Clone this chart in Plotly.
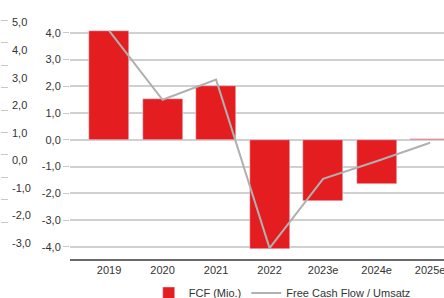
import plotly.graph_objects as go

years = ["2019", "2020", "2021", "2022", "2023e", "2024e", "2025e"]
fcf = [4.08, 1.54, 2.02, -4.08, -2.28, -1.65, 0.05]
fcf_margin = [4.71, 2.2, 2.93, -3.18, -0.67, -0.03, 0.64]
left_ticks = [5, 4, 3, 2, 1, 0, -1, -2, -3]
left_labels = ["5,0", "4,0", "3,0", "2,0", "1,0", "0,0", "-1,0", "-2,0", "-3,0"]
main_ticks = [4, 3, 2, 1, 0, -1, -2, -3, -4]
main_labels = ["4,0", "3,0", "2,0", "1,0", "0,0", "-1,0", "-2,0", "-3,0", "-4,0"]
edge_ticks = list(range(10))

RED = "#e41e20"
GRAY = "#b0b0b0"
FONT = "Liberation Sans, Arial, sans-serif"

fig = go.Figure()
fig.add_trace(go.Bar(x=years, y=fcf, name="FCF (Mio.)", marker_color=RED,
                     width=0.75, yaxis="y"))
fig.add_trace(go.Scatter(x=years, y=fcf_margin, name="Free Cash Flow / Umsatz",
                         mode="lines", line=dict(color=GRAY, width=2), yaxis="y2"))
# empty helper so the decorative tick axis at the left edge is drawn
fig.add_trace(go.Scatter(x=[None], y=[None], yaxis="y3", showlegend=False,
                         hoverinfo="skip", mode="lines"))

fig.update_layout(
    width=444, height=298,
    margin=dict(l=0, r=0, t=6, b=39, autoexpand=False),
    paper_bgcolor="white", plot_bgcolor="white",
    font=dict(family=FONT, size=11, color="#333333"),
    bargap=0,
    xaxis=dict(domain=[70 / 444, 1], type="category", range=[-0.73, 6.26],
               showline=True, linecolor="#6a6a6a", linewidth=2, automargin=False,
               ticks="", showgrid=False, tickfont=dict(size=11, color="#333333")),
    yaxis=dict(range=[-4.45, 5.0], tickvals=main_ticks, ticktext=main_labels,
               showgrid=True, gridcolor="#d0d0d0", gridwidth=1.5, automargin=False,
               zeroline=False, ticks="outside", ticklen=6, tickcolor="#c8c8c8",
               tickfont=dict(size=11, color="#333333")),
    yaxis2=dict(range=[-3.575, 5.6], tickvals=left_ticks, ticktext=left_labels,
                overlaying="y", side="left", anchor="free", position=0,
                ticklabelposition="inside", ticks="", showgrid=False, zeroline=False,
                ticklabelstandoff=8, showline=False, automargin=False,
                tickfont=dict(size=11, color="#333333")),
    yaxis3=dict(range=[-1.65, 9.65], tickvals=edge_ticks, overlaying="y",
                side="left", anchor="free", position=0, showticklabels=False,
                ticks="inside", ticklen=7, tickcolor="#c8c8c8", showgrid=False,
                zeroline=False, showline=False, automargin=False),
    legend=dict(orientation="h", x=0.335, xanchor="left", y=-0.077, yanchor="top",
                font=dict(size=11, color="#333333"), itemwidth=30,
                bgcolor="rgba(0,0,0,0)"),
    showlegend=True,
)

fig.write_html("out.html", config={"displayModeBar": False},
               post_script="document.body.style.margin='0';document.body.style.overflow='hidden';")
